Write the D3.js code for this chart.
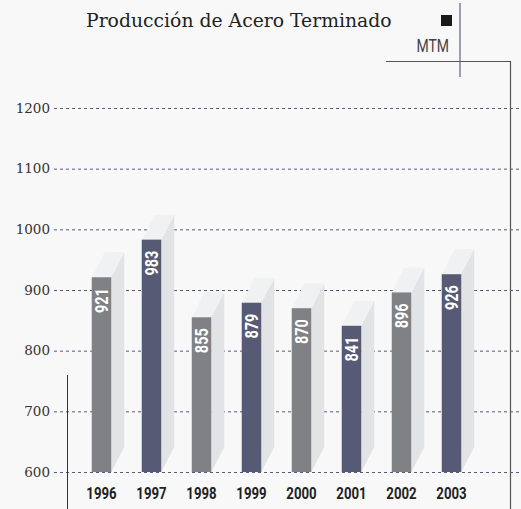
<!DOCTYPE html>
<html><head><meta charset="utf-8">
<script src="https://cdn.jsdelivr.net/npm/d3@7"></script>
<style>
html,body{margin:0;padding:0;background:#f8f8f8;}
svg{display:block;}
</style></head>
<body>
<script>
const years = ["1996","1997","1998","1999","2000","2001","2002","2003"];
const values = [921, 983, 855, 879, 870, 841, 896, 926];
const yTicks = [600, 700, 800, 900, 1000, 1100, 1200];
const titleText = "Producción de Acero Terminado";
const unitText = "MTM";

const W = 521, H = 509;
const svg = d3.select("body").append("svg").attr("width", W).attr("height", H);
svg.append("rect").attr("width", W).attr("height", H).attr("fill", "#f8f8f8");

const y = d3.scaleLinear().domain([600, 1200]).range([472, 108]);
const x = d3.scalePoint().domain(years).range([101.5, 451.5]);
const bw = 19.5, dx = 13, dy = 25;
const navy = "#565a75", gray = "#808184";

// gridlines + labels
const yAxis = d3.axisLeft(y).tickValues(yTicks).tickFormat(d3.format("d")).tickSize(0).tickPadding(0);
const ga = svg.append("g").attr("transform", "translate(50,0)").call(yAxis);
ga.select(".domain").remove();
ga.selectAll("text")
  .attr("font-family", "'DejaVu Serif','Liberation Serif',serif")
  .attr("font-size", 13.5).attr("fill", "#333")
  .style("font-variant-numeric", "oldstyle-nums")
  .attr("dy", "0.3em");
ga.selectAll(".tick").append("line")
  .attr("x1", 4).attr("x2", W).attr("stroke", navy).attr("stroke-width", 1)
  .attr("stroke-dasharray", "3,3");

// bars
const bars = svg.append("g").selectAll("g").data(years).join("g");
bars.each(function(yr, i) {
  const g = d3.select(this);
  const x0 = x(yr) - bw / 2, x1 = x0 + bw;
  const yt = y(values[i]), yb = y(600);
  g.append("polygon")
    .attr("points", [[x1, yt], [x1 + dx, yt - dy], [x1 + dx, yb - dy], [x1, yb]].join(" "))
    .attr("fill", "#e2e3e5");
  g.append("polygon")
    .attr("points", [[x0, yt], [x1, yt], [x1 + dx, yt - dy], [x0 + dx, yt - dy]].join(" "))
    .attr("fill", "#f0f1f3");
  g.append("rect").attr("x", x0).attr("y", yt).attr("width", bw).attr("height", yb - yt)
    .attr("fill", i % 2 ? navy : gray);
  g.append("text")
    .attr("transform", `translate(${x0 + bw / 2 + 6.5},${yt + 11}) rotate(-90) scale(0.78,1)`)
    .attr("text-anchor", "end")
    .attr("font-family", "Roboto, 'Liberation Sans', sans-serif")
    .attr("font-weight", "bold").attr("font-size", 18.5).attr("fill", "#fff")
    .text(values[i]);
});

// x labels
svg.append("g").selectAll("text").data(years).join("text")
  .attr("transform", d => `translate(${x(d)},499) scale(0.8,1)`)
  .attr("text-anchor", "middle")
  .attr("font-family", "Roboto, 'Liberation Sans', sans-serif")
  .attr("font-weight", "bold").attr("font-size", 16.5).attr("fill", "#222")
  .text(d => d);

// frame lines
svg.append("line").attr("x1", 67.5).attr("x2", 67.5).attr("y1", 375).attr("y2", H)
  .attr("stroke", "#333").attr("stroke-width", 1);
svg.append("polyline").attr("points", "386,61.5 510.5,61.5 510.5,509")
  .attr("fill", "none").attr("stroke", "#555").attr("stroke-width", 1.2);
svg.append("line").attr("x1", 460).attr("x2", 460).attr("y1", 3).attr("y2", 77)
  .attr("stroke", "#6b6f88").attr("stroke-width", 1.3);

// title
svg.append("text").attr("x", 86).attr("y", 27)
  .attr("font-family", "'DejaVu Serif','Liberation Serif',serif")
  .attr("font-size", 18.8).attr("fill", "#222").text(titleText);
svg.append("rect").attr("x", 441).attr("y", 15).attr("width", 11).attr("height", 11).attr("fill", "#1a1a1a");
svg.append("text").attr("transform", "translate(449,52) scale(0.8,1)").attr("text-anchor", "end")
  .attr("font-family", "Roboto, 'Liberation Sans', sans-serif")
  .attr("font-size", 17.5).attr("fill", "#444").text(unitText);
</script>
</body></html>
